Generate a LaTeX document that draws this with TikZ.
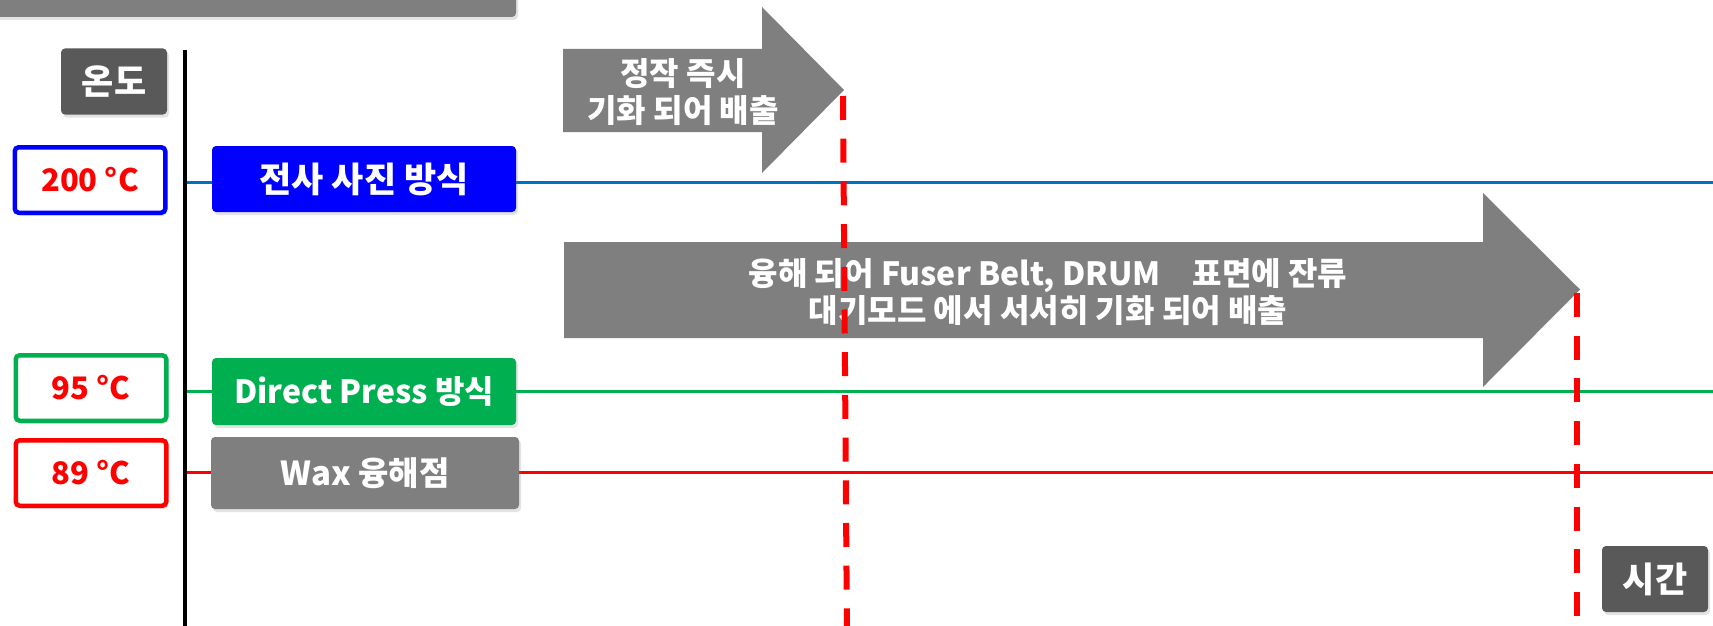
\documentclass[tikz,border=0pt]{standalone}
\usepackage{fontspec}
\setmainfont{Noto Sans CJK KR}
\usetikzlibrary{shadows}
\definecolor{gbox}{HTML}{7F7F7F}
\definecolor{dbox}{HTML}{595959}
\definecolor{bbox}{HTML}{0000FF}
\definecolor{grn}{HTML}{00B050}
\definecolor{bline}{HTML}{0070C0}
\definecolor{rd}{HTML}{FF0000}
\tikzset{
  shad/.style={drop shadow={opacity=0.22, shadow xshift=2pt, shadow yshift=-3pt}},
  box/.style={rectangle, rounded corners=4pt, inner sep=0pt, text=white,
    font=\bfseries\fontsize{34}{40}\selectfont, shad},
  tempbox/.style={box, fill=white, line width=4.5pt, text=rd,
    font=\bfseries\fontsize{31}{36}\selectfont,
    minimum width=150.5pt, minimum height=65.5pt},
  axisbox/.style={box, fill=dbox, minimum width=106pt, minimum height=66pt,
    font=\bfseries\fontsize{35}{40}\selectfont},
  methbox/.style={box, minimum width=304pt, minimum height=66pt},
  level/.style={line width=3pt},
  bigarrow/.style={fill=gbox},
  arrowtext/.style={text=white, align=center, inner sep=0pt,
    font=\bfseries\fontsize{32}{37}\selectfont},
  redash/.style={rd, line width=6pt, dash pattern=on 24pt off 18.7pt}
}
\begin{document}
\begin{tikzpicture}[x=1pt,y=-1pt]
\path[use as bounding box, clip] (0,0) rectangle (1713,626);
\fill[white] (0,0) rectangle (1713,626);
% top bar
\node[box, fill=gbox, minimum width=536pt, minimum height=47pt] (topbar) at (248,-6.5) {};
% level lines
\coordinate (b0) at (185,182); \coordinate (b1) at (1713,182);
\coordinate (g0) at (185,391); \coordinate (g1) at (1713,391);
\coordinate (r0) at (185,472); \coordinate (r1) at (1713,472);
\draw[level, bline] (b0) -- (b1);
\draw[level, grn] (g0) -- (g1);
\draw[level, rd] (r0) -- (r1);
% axis
\coordinate (axtop) at (185,50); \coordinate (axbot) at (185,630);
\draw[line width=3.5pt] (axtop) -- (axbot);
% arrows
\path[bigarrow] (563,49) -- (762,49) -- (762,7) -- (844,90) -- (762,173) -- (762,132) -- (563,132) -- cycle;
\node[arrowtext] (a1text) at (683,92) {정작 즉시\\기화 되어 배출};
\path[bigarrow] (564,242) -- (1483,242) -- (1483,193) -- (1580,289.5) -- (1483,387) -- (1483,338) -- (564,338) -- cycle;
\node[arrowtext] (a2text) at (1048,292) {융해 되어 Fuser Belt, DRUM\quad 표면에 잔류\\대기모드 에서 서서히 기화 되어 배출};
% dashed time markers
\coordinate (d1a) at (843,96); \coordinate (d1b) at (847,640);
\coordinate (d2a) at (1577,293); \coordinate (d2b) at (1577,617.5);
\draw[redash] (d1a) -- (d1b);
\draw[redash] (d2a) -- (d2b);
% axis labels
\node[axisbox] (ondo) at (114,81.5) {온도};
\node[axisbox] (sigan) at (1655,579) {시간};
% temperature boxes
\node[tempbox, draw=bbox] (t200) at (90,180) {200 °C};
\node[tempbox, draw=grn] (t95) at (91,388) {95 °C};
\node[tempbox, draw=rd] (t89) at (91,473) {89 °C};
% method boxes
\node[methbox, fill=bbox, font=\bfseries\fontsize{35}{40}\selectfont] (m1) at (364,179) {전사 사진 방식};
\node[methbox, fill=grn, minimum height=67pt, font=\bfseries\fontsize{32}{40}\selectfont] (m2) at (364,391.5) {Direct Press 방식};
\node[methbox, fill=gbox, minimum width=308pt, minimum height=72pt, font=\bfseries\fontsize{33}{40}\selectfont] (m3) at (365,473) {Wax 융해점};
\end{tikzpicture}
\end{document}
